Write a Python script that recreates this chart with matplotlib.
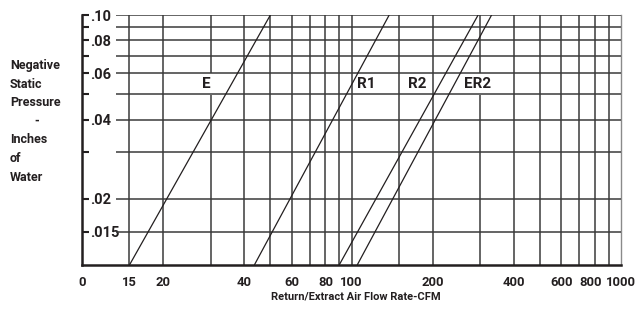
import numpy as np
import matplotlib
matplotlib.use("Agg")
import matplotlib.pyplot as plt
import matplotlib.transforms as mtransforms
from matplotlib.ticker import FixedLocator, NullLocator

# Curvas caudal (CFM) vs presion estatica negativa (pulg. de agua)
E_cfm = [15, 50]
E_pres = [0.0112, 0.10]
R1_cfm = [43.6, 138]
R1_pres = [0.0112, 0.10]
R2_cfm = [90, 295]
R2_pres = [0.0112, 0.10]
ER2_cfm = [105, 331]
ER2_pres = [0.0112, 0.10]

nombres = ["E", "R1", "R2", "ER2"]
etiqueta_cfm = [29, 113, 176, 293]
etiqueta_pres = [0.0548, 0.0548, 0.0548, 0.0548]

x_ticks = [10, 15, 20, 40, 60, 80, 100, 200, 400, 600, 800, 1000]
x_labels = ["0", "15", "20", "40", "60", "80", "100", "200", "400", "600", "800", "1000"]
x_grid = [15, 20, 30, 40, 50, 60, 70, 80, 90, 100, 150, 200, 300, 400, 500,
          600, 700, 800, 900]
y_ticks = [0.015, 0.02, 0.03, 0.04, 0.05, 0.06, 0.07, 0.08, 0.09, 0.10]
y_labels = [".015", ".02", "", ".04", "", ".06", "", ".08", "", ".10"]

TINTA = "#231f20"
FUENTE = ["Roboto", "DejaVu Sans"]

fig = plt.figure(figsize=(6.35, 3.12), dpi=100)
ax = fig.add_axes([82 / 635, 47 / 312, 539 / 635, 250 / 312])
ax.set_xscale("log")
ax.set_yscale("log")
ax.set_xlim(10, 1000)
ax.set_ylim(0.0112, 0.10)

# reticula: verticales completas, horizontales empiezan despues de las etiquetas
ax.vlines(x_grid, 0, 1, transform=ax.get_xaxis_transform(),
          color="#3a3a3a", lw=1.1, zorder=1)
ax.hlines(y_ticks, 13.4, 1000, color="#3a3a3a", lw=1.1, zorder=3)

for cfm, pres in [(E_cfm, E_pres), (R1_cfm, R1_pres),
                  (R2_cfm, R2_pres), (ER2_cfm, ER2_pres)]:
    ax.plot(cfm, pres, color=TINTA, lw=0.9, zorder=4, solid_capstyle="butt")

for nom, xc, yc in zip(nombres, etiqueta_cfm, etiqueta_pres):
    ax.text(xc, yc, nom, ha="center", va="center", fontsize=11,
            fontweight="bold", family=FUENTE, color=TINTA, zorder=2,
            bbox=dict(boxstyle="square,pad=0.25", fc="white", ec="none"))

ax.xaxis.set_major_locator(FixedLocator(x_ticks))
ax.xaxis.set_minor_locator(NullLocator())
ax.set_xticklabels(x_labels)
ax.yaxis.set_major_locator(FixedLocator(y_ticks))
ax.yaxis.set_minor_locator(NullLocator())
ax.set_yticklabels(y_labels)

ax.tick_params(axis="x", length=0, pad=8)
ax.tick_params(axis="y", direction="in", length=5, width=1.5, color=TINTA, pad=-6)
for lbl in ax.get_yticklabels():
    lbl.set_ha("left")
    lbl.set_fontsize(10.5)
for lbl in ax.get_xticklabels():
    lbl.set_fontsize(9.4)
for lbl in ax.get_xticklabels() + ax.get_yticklabels():
    lbl.set_family(FUENTE)
    lbl.set_fontweight("bold")
    lbl.set_color(TINTA)

# separar un poco "800" de "1000"
desplaza = mtransforms.ScaledTranslation(-4 / 100, 0, fig.dpi_scale_trans)
lbl800 = ax.get_xticklabels()[x_labels.index("800")]
lbl800.set_transform(lbl800.get_transform() + desplaza)

ax.spines["top"].set_visible(False)
ax.spines["left"].set_linewidth(1.8)
ax.spines["left"].set_color(TINTA)
ax.spines["bottom"].set_linewidth(1.8)
ax.spines["bottom"].set_color(TINTA)
ax.spines["right"].set_linewidth(1.0)
ax.spines["right"].set_color("#8a8a8a")

fig.text(10 / 635, 1 - 59 / 312,
         "Negative\nStatic\nPressure\n        -\nInches\nof\nWater",
         ha="left", va="top", fontsize=9, fontweight="bold", family=FUENTE,
         color=TINTA, linespacing=1.56)
fig.text(356 / 635, 1 - 296 / 312, "Return/Extract Air Flow Rate-CFM",
         ha="center", va="center", fontsize=8, fontweight="bold",
         family=FUENTE, color=TINTA)

fig.savefig("out.png", dpi=100)
plt.close(fig)
